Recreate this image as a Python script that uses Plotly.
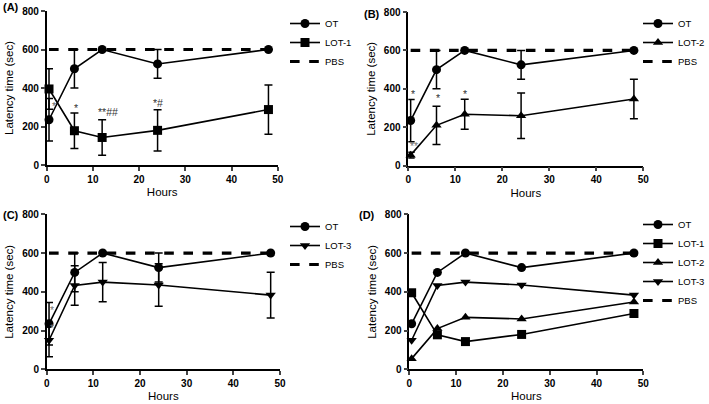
import plotly.graph_objects as go

hours = [0.5, 6, 12, 24, 48]
ot = [235, 500, 600, 525, 600]
ot_err = [110, 100, 0, 75, 0]
lot1 = [395, 178, 143, 180, 288]
lot1_err = [105, 92, 92, 107, 128]
lot2 = [55, 210, 268, 260, 347]
lot2_err = [15, 100, 78, 118, 103]
lot3 = [150, 433, 450, 435, 383]
lot3_err = [85, 102, 101, 110, 118]
pbs = [600, 600, 600, 600, 600]

x_ticks = [0, 10, 20, 30, 40, 50]
y_ticks = [0, 200, 400, 600, 800]

FONT = "Arial, Liberation Sans, sans-serif"
W, H = 709, 404

# panel pixel boxes: (left, right, top, bottom)
boxes = {
    "A": (46.7, 277.7, 11, 165),
    "B": (408.3, 643.3, 12, 165.7),
    "C": (46.7, 280, 214.3, 369.3),
    "D": (409.3, 643.3, 214.3, 369.3),
}

fig = go.Figure()

def add_series(ax, name, y, err, symbol, legend, show_err=True):
    xa = "x" if ax == 1 else f"x{ax}"
    ya = "y" if ax == 1 else f"y{ax}"
    fig.add_trace(go.Scatter(
        x=hours, y=y, name=name, mode="lines+markers",
        xaxis=xa, yaxis=ya, legend=legend,
        line=dict(color="black", width=1.6),
        marker=dict(symbol=symbol, size=9, color="black"),
        error_y=dict(type="data", array=err, visible=show_err,
                     color="black", thickness=1.5, width=4),
        cliponaxis=False,
    ))

def add_pbs(ax, legend):
    xa = "x" if ax == 1 else f"x{ax}"
    ya = "y" if ax == 1 else f"y{ax}"
    fig.add_trace(go.Scatter(
        x=hours, y=pbs, name="PBS", mode="lines",
        xaxis=xa, yaxis=ya, legend=legend,
        line=dict(color="black", width=3.2, dash="dash"),
    ))

# Panel A
add_series(1, "OT", ot, ot_err, "circle", "legend")
add_series(1, "LOT-1", lot1, lot1_err, "square", "legend")
add_pbs(1, "legend")
# Panel B
add_series(2, "OT", ot, ot_err, "circle", "legend2")
add_series(2, "LOT-2", lot2, lot2_err, "triangle-up", "legend2")
add_pbs(2, "legend2")
# Panel C
add_series(3, "OT", ot, ot_err, "circle", "legend3")
add_series(3, "LOT-3", lot3, lot3_err, "triangle-down", "legend3")
add_pbs(3, "legend3")
# Panel D
add_series(4, "OT", ot, ot_err, "circle", "legend4", show_err=False)
add_series(4, "LOT-1", lot1, lot1_err, "square", "legend4", show_err=False)
add_series(4, "LOT-2", lot2, lot2_err, "triangle-up", "legend4", show_err=False)
add_series(4, "LOT-3", lot3, lot3_err, "triangle-down", "legend4", show_err=False)
add_pbs(4, "legend4")

layout = dict(
    width=W, height=H, margin=dict(l=0, r=0, t=0, b=0, autoexpand=False),
    paper_bgcolor="white", plot_bgcolor="white",
    font=dict(family=FONT, color="black"),
)

for i, key in enumerate(["A", "B", "C", "D"], start=1):
    l, r, t, b = boxes[key]
    sfx = "" if i == 1 else str(i)
    layout[f"xaxis{sfx}"] = dict(
        domain=[l / W, r / W], anchor=f"y{sfx}", range=[0, 50], automargin=False,
        tickvals=x_ticks, ticks="outside", ticklen=4, tickwidth=1.5,
        showline=True, linecolor="black", linewidth=1.5, showgrid=False,
        zeroline=False, tickfont=dict(size=10, weight="bold", family=FONT),
        title=dict(text="Hours", font=dict(size=11.5, family=FONT), standoff=4),
    )
    layout[f"yaxis{sfx}"] = dict(
        domain=[1 - b / H, 1 - t / H], anchor=f"x{sfx}", range=[0, 800], automargin=False,
        tickvals=y_ticks, ticks="outside", ticklen=4, tickwidth=1.5,
        showline=True, linecolor="black", linewidth=1.5, showgrid=False,
        zeroline=False, tickfont=dict(size=10, weight="bold", family=FONT),
        title=dict(text="Latency time (sec)", font=dict(size=11.5, family=FONT), standoff=6),
    )

leg_common = dict(bgcolor="rgba(0,0,0,0)", tracegroupgap=0, itemwidth=30,
                  xanchor="left", yanchor="top")
leg_font = dict(size=9.5, family=FONT)
layout["legend"] = dict(x=285 / W, y=1 - 9 / H, font=leg_font, **leg_common)
layout["legend2"] = dict(x=638 / W, y=1 - 9 / H, font=leg_font, **leg_common)
layout["legend3"] = dict(x=285 / W, y=1 - 212 / H, font=leg_font, **leg_common)
layout["legend4"] = dict(x=638 / W, y=1 - 210 / H, font=leg_font, **leg_common)

fig.update_layout(**layout)

# panel labels
for lbl, (px, py) in {"(A)": (1, 7), "(B)": (362, 14), "(C)": (1, 215), "(D)": (357, 215)}.items():
    fig.add_annotation(text=f"<b>{lbl}</b>", x=px / W, y=1 - py / H, xref="paper", yref="paper",
                       xanchor="left", yanchor="middle", showarrow=False,
                       font=dict(size=11, family=FONT, color="black"))

# significance marks
stars = [
    ("x", "y", 1.5, 306, "*", "#666"),
    ("x", "y", 6.3, 298, "*", "#333"),
    ("x", "y", 13.2, 275, "**##", "#333"),
    ("x", "y", 24, 322, "*#", "#333"),
    ("x2", "y2", 0.9, 373, "*", "#333"),
    ("x2", "y2", 1.2, 104, "**", "#777"),
    ("x2", "y2", 6.3, 354, "*", "#333"),
    ("x2", "y2", 12, 373, "*", "#333"),
    ("x3", "y3", 1.1, 306, "*", "#777"),
    ("x3", "y3", 1.1, 212, "*", "#777"),
]
for xr, yr, sx, sy, txt, col in stars:
    fig.add_annotation(text=txt, x=sx, y=sy, xref=xr, yref=yr, showarrow=False,
                       font=dict(size=10.5, family=FONT, color=col))

fig.write_html("out.html", config={"displayModeBar": False},
               post_script="document.body.style.margin='0';")
